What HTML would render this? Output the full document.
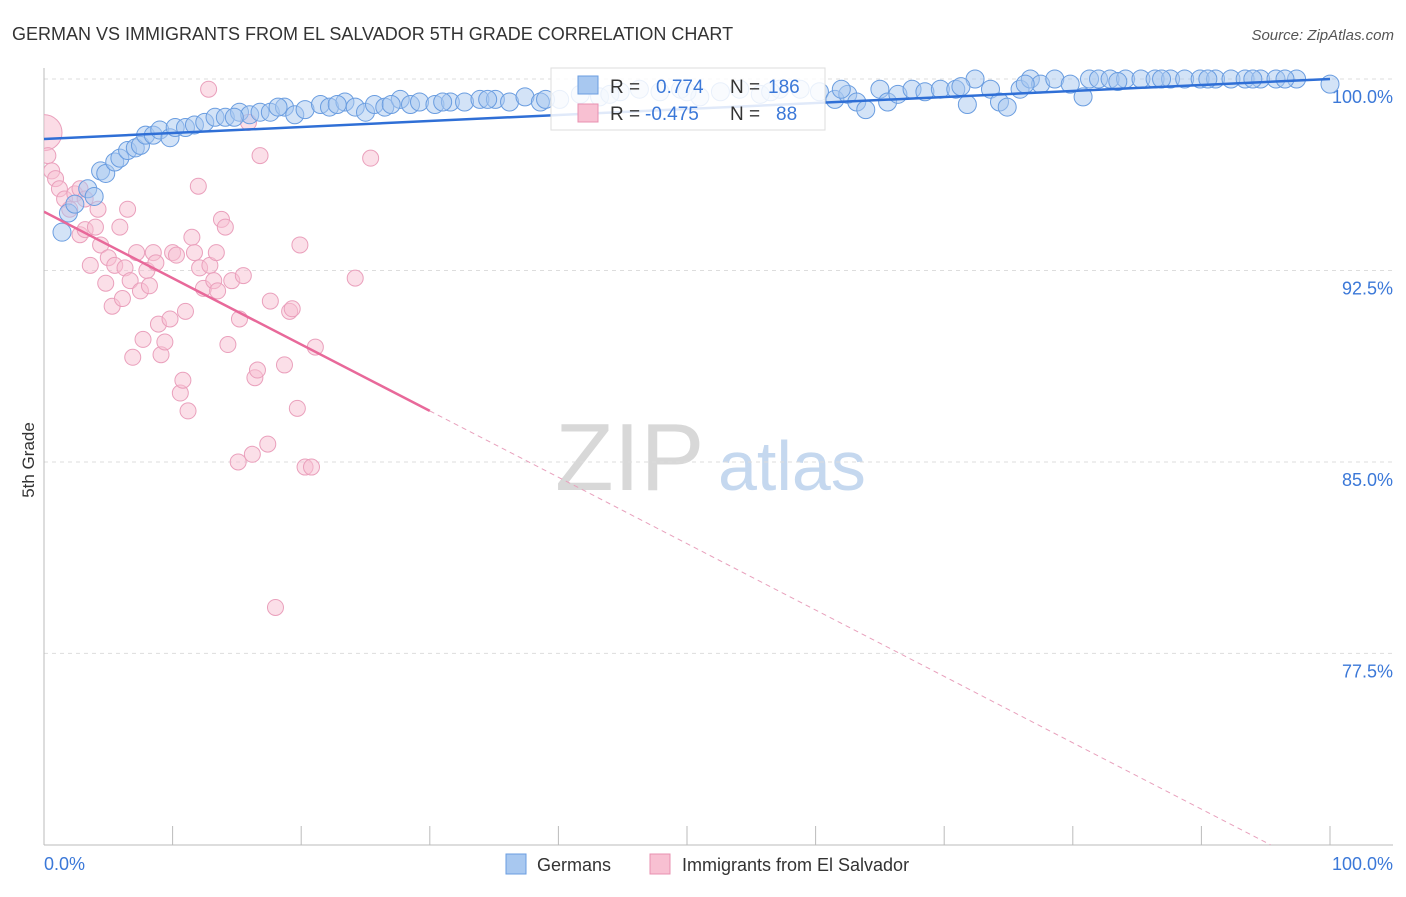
<!DOCTYPE html>
<html><head><meta charset="utf-8"><style>
body{margin:0;background:#fff;font-family:"Liberation Sans",sans-serif}
svg text{font-family:"Liberation Sans",sans-serif}
</style></head><body>
<svg id="c" width="1406" height="892" xmlns="http://www.w3.org/2000/svg">
<defs><clipPath id="pc"><rect x="44" y="50" width="1362" height="795"/></clipPath></defs>
<text x="12" y="40" font-size="18" fill="#333">GERMAN VS IMMIGRANTS FROM EL SALVADOR 5TH GRADE CORRELATION CHART</text>
<text x="1394" y="40" font-size="15" fill="#555" font-style="italic" text-anchor="end">Source: ZipAtlas.com</text>
<text x="34" y="460" font-size="17" fill="#333" transform="rotate(-90 34 460)" text-anchor="middle">5th Grade</text>
<g>
<text x="555" y="490" font-size="96" fill="#d8d8d8" font-family="Liberation Serif,serif">ZIP</text>
<text x="718" y="490" font-size="70" fill="#c5d8ef">atlas</text></g>
<g id="grid"></g><g id="marks" clip-path="url(#pc)"></g>
<g>
<rect x="551" y="68" width="274" height="62" fill="#fff" fill-opacity="0.85" stroke="#ddd"/>
<rect x="578" y="76" width="20" height="18" fill="#a8c8f0" stroke="#6a9de0"/>
<rect x="578" y="104" width="20" height="18" fill="#f8c0d2" stroke="#e890b0"/>
<text x="610" y="93" font-size="19" fill="#333">R =</text><text x="656" y="93" font-size="19" fill="#3b78d8">0.774</text>
<text x="730" y="93" font-size="19" fill="#333">N =</text><text x="768" y="93" font-size="19" fill="#3b78d8">186</text>
<text x="610" y="120" font-size="19" fill="#333">R =</text><text x="645" y="120" font-size="19" fill="#3b78d8">-0.475</text>
<text x="730" y="120" font-size="19" fill="#333">N =</text><text x="776" y="120" font-size="19" fill="#3b78d8">88</text>
</g>
<g>
<rect x="506" y="854" width="20" height="20" fill="#a8c8f0" stroke="#6a9de0"/>
<text x="537" y="871" font-size="18" fill="#333">Germans</text>
<rect x="650" y="854" width="20" height="20" fill="#f8c0d2" stroke="#e890b0"/>
<text x="682" y="871" font-size="18" fill="#333">Immigrants from El Salvador</text>
</g>
</svg>
<script>
const yTicks=[100,92.5,85,77.5];
const yTickLabels=["100.0%","92.5%","85.0%","77.5%"];
const blueX=[1.4,1.9,2.4,3.4,3.9,4.4,4.8,5.5,5.9,6.5,7.1,7.5,7.9,8.5,9.0,9.8,10.2,11.0,11.7,12.5,13.3,14.1,15.2,16.0,16.8,17.6,18.7,19.5,20.3,21.5,22.2,23.4,24.2,25.0,25.7,26.5,27.7,28.5,29.2,30.4,31.6,32.7,33.9,35.1,36.2,37.4,38.6,40.1,41.7,43.2,44.8,46.3,47.9,49.5,51.0,52.6,54.1,55.7,57.2,58.8,60.3,61.5,62.5,63.2,63.9,65.0,65.6,66.4,67.5,68.5,69.7,70.9,71.8,72.4,73.6,74.3,74.9,75.9,76.7,77.5,78.6,79.8,80.8,81.3,82.0,82.9,84.1,85.3,86.4,87.6,88.7,89.9,91.1,92.3,93.4,94.6,95.8,97.4,100.0,14.8,18.2,22.8,27.0,31.0,34.5,39.0,44.0,50.0,56.5,62.0,71.3,76.3,83.5,86.9,90.5,94.0,96.5];
const blueY=[94.0,94.75,95.1,95.7,95.4,96.4,96.3,96.75,96.9,97.2,97.3,97.4,97.8,97.8,98.0,97.7,98.1,98.1,98.2,98.3,98.5,98.5,98.7,98.6,98.7,98.7,98.9,98.6,98.8,99.0,98.9,99.1,98.9,98.7,99.0,98.9,99.2,99.0,99.1,99.0,99.1,99.1,99.2,99.2,99.1,99.3,99.1,99.2,99.4,99.3,99.5,99.6,99.5,99.6,99.3,99.5,99.6,99.4,99.6,99.6,99.5,99.2,99.4,99.1,98.8,99.6,99.1,99.4,99.6,99.5,99.6,99.6,99.0,100,99.6,99.1,98.9,99.6,100,99.8,100,99.8,99.3,100,100,100,100,100,100,100,100,100,100,100,100,100,100,100,99.8,98.5,98.9,99.0,99.0,99.1,99.2,99.2,99.4,99.5,99.5,99.6,99.7,99.8,99.9,100,100,100,100];
const pinkX=[0.3,0.6,0.9,1.2,1.6,2.0,2.4,2.8,3.2,2.8,3.2,3.6,4.0,4.2,4.4,4.8,5.0,5.3,5.5,5.9,6.1,6.3,6.5,6.7,6.9,7.2,7.5,7.7,8.0,8.2,8.5,8.7,8.9,9.1,9.4,9.8,10.0,10.3,10.6,10.8,11.0,11.2,11.5,11.7,12.0,12.1,12.4,12.8,12.9,13.2,13.4,13.5,13.8,14.1,14.3,14.6,15.1,15.2,15.5,15.9,16.2,16.4,16.6,16.8,17.4,17.6,18.0,18.7,19.1,19.3,19.7,19.9,20.3,20.8,21.1,24.2,25.4];
const pinkY=[97.0,96.4,96.1,95.7,95.3,94.9,95.5,95.7,95.3,93.9,94.1,92.7,94.2,94.9,93.5,92.0,93.0,91.1,92.7,94.2,91.4,92.6,94.9,92.1,89.1,93.2,91.7,89.8,92.5,91.9,93.2,92.8,90.4,89.2,89.7,90.6,93.2,93.1,87.7,88.2,90.9,87.0,93.8,93.2,95.8,92.6,91.8,99.6,92.7,92.1,93.2,91.7,94.5,94.2,89.6,92.1,85.0,90.6,92.3,98.3,85.3,88.3,88.6,97.0,85.7,91.3,79.3,88.8,90.9,91.0,87.1,93.5,84.8,84.8,89.5,92.2,96.9];
const X0=44,X1=1330,Y0=79,PER=25.53;
const sx=v=>X0+(X1-X0)*v/100, sy=v=>Y0+(100-v)*PER;
const NS="http://www.w3.org/2000/svg";
function mk(t,a,p){const e=document.createElementNS(NS,t);for(const k in a)e.setAttribute(k,a[k]);p.appendChild(e);return e;}
const g=document.getElementById('grid'),m=document.getElementById('marks');
yTicks.forEach((t,i)=>{
 const l=mk('line',{x1:44,x2:1393,y1:sy(t),y2:sy(t),stroke:'#ddd','stroke-dasharray':'4 4'},g);
 
 
 const tx=mk('text',{x:1393,y:sy(t)+24,'font-size':18,fill:'#3b78d8','text-anchor':'end'},g);tx.textContent=yTickLabels[i];
 
 
});
mk('line',{x1:44,x2:44,y1:68,y2:845,stroke:'#bbb'},g);
mk('line',{x1:44,x2:1393,y1:845,y2:845,stroke:'#bbb'},g);
for(let i=0;i<=10;i++){mk('line',{x1:sx(i*10),x2:sx(i*10),y1:826,y2:845,stroke:'#bbb'},g);}
let t1=mk('text',{x:44,y:870,'font-size':18,fill:'#3b78d8'},g);t1.textContent='0.0%';


let t2=mk('text',{x:1393,y:870,'font-size':18,fill:'#3b78d8','text-anchor':'end'},g);t2.textContent='100.0%';


let bp=mk('circle',{cx:sx(0),cy:sy(97.9),r:18,fill:'#f8c0d2','fill-opacity':0.55,stroke:'#eaa0bc'},m);


pinkX.forEach((x,i)=>{const c=mk('circle',{cx:sx(x),cy:sy(pinkY[i]),r:8,fill:'#f8c0d2','fill-opacity':0.5,stroke:'#eaa0bc'},m);
 
 });
blueX.forEach((x,i)=>{const c=mk('circle',{cx:sx(x),cy:sy(blueY[i]),r:9,fill:'#a8c8f0','fill-opacity':0.5,stroke:'#6a9de0'},m);
 
 });
const bA=97.65,bB=0.0235,pA=94.8,pB=-0.26;
let bl=mk('line',{x1:sx(0),y1:sy(bA),x2:sx(100),y2:sy(bA+bB*100),stroke:'#2f6fd6','stroke-width':2.5},m);


let pl=mk('line',{x1:sx(0),y1:sy(pA),x2:sx(30),y2:sy(pA+pB*30),stroke:'#e8699a','stroke-width':2.5},m);


const xe=(70-pA)/pB;
let pd=mk('line',{x1:sx(30),y1:sy(pA+pB*30),x2:sx(xe),y2:sy(70),stroke:'#e8a0bc','stroke-width':1,'stroke-dasharray':'5 4'},m);


</script>
</body></html>
